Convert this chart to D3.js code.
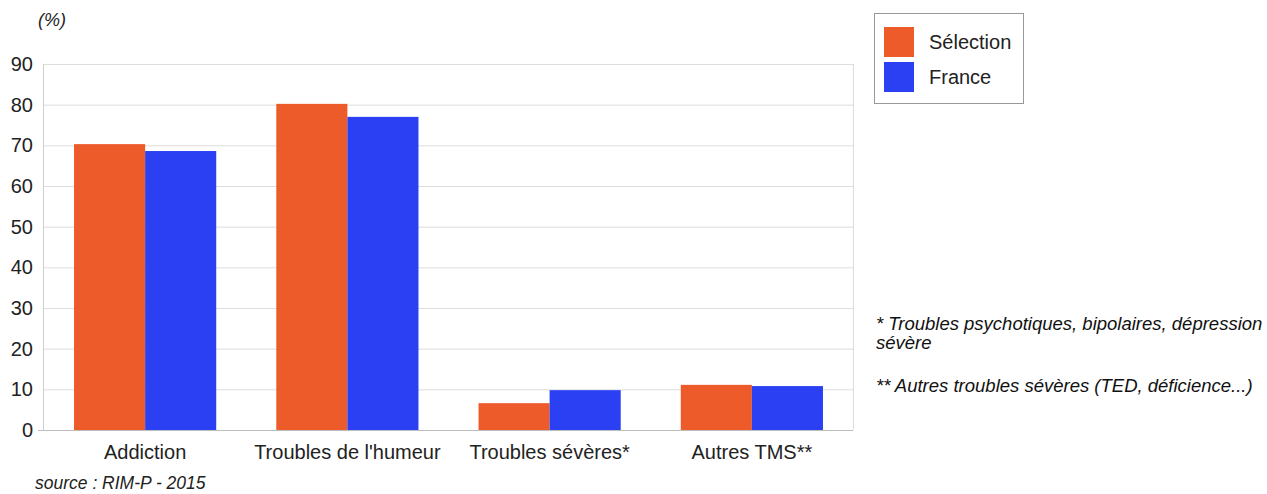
<!DOCTYPE html>
<html>
<head>
<meta charset="utf-8">
<script src="https://cdn.jsdelivr.net/npm/d3@7"></script>
<style>
  body { margin: 0; background: #fff; }
  svg { display: block; font-family: "Liberation Sans", Arial, Helvetica, sans-serif; }
</style>
</head>
<body>
<svg id="chart" width="1267" height="494"></svg>
<script>
// Share of patients by diagnosis group (%)
const categories = ["Addiction", "Troubles de l'humeur", "Troubles sévères*", "Autres TMS**"];
const seriesNames = ["Sélection", "France"];
const selection = [70.3, 80.2, 6.6, 11.1];
const france = [68.6, 77.0, 9.8, 10.8];
const yTicks = [0, 10, 20, 30, 40, 50, 60, 70, 80, 90];
const footnotes = [
  ["* Troubles psychotiques, bipolaires, dépression", "sévère"],
  ["** Autres troubles sévères (TED, déficience...)"]
];
const colors = ["#EE5B2B", "#2B40F3"];

const svg = d3.select("#chart");
const plot = { left: 44, right: 853, top: 64, bottom: 430 };

const x = d3.scaleBand()
  .domain(categories)
  .range([plot.left, plot.right])
  .paddingInner(0.297)
  .paddingOuter(0.1485);

const xInner = d3.scaleBand()
  .domain(seriesNames)
  .range([0, x.bandwidth()]);

const y = d3.scaleLinear()
  .domain([0, 90])
  .range([plot.bottom, plot.top]);

// Grid lines
svg.append("g")
  .selectAll("line")
  .data(yTicks.filter(d => d > 0))
  .join("line")
  .attr("x1", plot.left)
  .attr("x2", plot.right)
  .attr("y1", d => y(d) + 0.5)
  .attr("y2", d => y(d) + 0.5)
  .attr("stroke", "#dddddd")
  .attr("stroke-width", 1);

// Plot frame: left and right edges
svg.append("line")
  .attr("x1", plot.left - 0.5).attr("x2", plot.left - 0.5)
  .attr("y1", plot.top).attr("y2", plot.bottom)
  .attr("stroke", "#cfcfcf");
svg.append("line")
  .attr("x1", plot.right + 0.5).attr("x2", plot.right + 0.5)
  .attr("y1", plot.top).attr("y2", plot.bottom)
  .attr("stroke", "#dddddd");

// Bars
const data = categories.map((c, i) => ({ cat: c, values: [selection[i], france[i]] }));
const groups = svg.append("g")
  .selectAll("g")
  .data(data)
  .join("g")
  .attr("transform", d => `translate(${x(d.cat)},0)`);

groups.selectAll("rect")
  .data(d => d.values.map((v, j) => ({ key: seriesNames[j], value: v, j })))
  .join("rect")
  .attr("x", d => xInner(d.key))
  .attr("width", xInner.bandwidth())
  .attr("y", d => y(d.value))
  .attr("height", d => y(0) - y(d.value))
  .attr("fill", d => colors[d.j]);

// Baseline
svg.append("line")
  .attr("x1", plot.left - 6).attr("x2", plot.right)
  .attr("y1", plot.bottom + 0.5).attr("y2", plot.bottom + 0.5)
  .attr("stroke", "#bdbdbd");

// Y axis labels
const yAxis = d3.axisLeft(y).tickValues(yTicks).tickSize(0).tickPadding(11);
const gy = svg.append("g")
  .attr("transform", `translate(${plot.left},0)`)
  .call(yAxis);
gy.select(".domain").remove();
gy.selectAll("text")
  .attr("font-size", 20)
  .attr("font-family", "Liberation Sans, Arial, sans-serif")
  .attr("fill", "#222");

// X axis labels
const xAxis = d3.axisBottom(x).tickSize(0).tickPadding(15);
const gx = svg.append("g")
  .attr("transform", `translate(0,${plot.bottom})`)
  .call(xAxis);
gx.select(".domain").remove();
gx.selectAll("text")
  .attr("font-size", 20)
  .attr("font-family", "Liberation Sans, Arial, sans-serif")
  .attr("fill", "#222");

// Unit label
svg.append("text")
  .attr("x", 38).attr("y", 26)
  .attr("font-size", 18)
  .attr("font-style", "italic")
  .attr("fill", "#222")
  .text("(%)");

// Source
svg.append("text")
  .attr("x", 35).attr("y", 489)
  .attr("font-size", 17.5)
  .attr("font-style", "italic")
  .attr("fill", "#222")
  .text("source : RIM-P - 2015");

// Legend
const legend = svg.append("g").attr("transform", "translate(874,13)");
legend.append("rect")
  .attr("x", 0.5).attr("y", 0.5)
  .attr("width", 149).attr("height", 90)
  .attr("fill", "#fff")
  .attr("stroke", "#999");
const items = legend.selectAll("g.item")
  .data(seriesNames)
  .join("g")
  .attr("class", "item")
  .attr("transform", (d, i) => `translate(10,${14 + i * 35})`);
items.append("rect")
  .attr("width", 30).attr("height", 30)
  .attr("fill", (d, i) => colors[i]);
items.append("text")
  .attr("x", 45).attr("y", 22)
  .attr("font-size", 20)
  .attr("fill", "#222")
  .text(d => d);

// Footnotes
const notes = svg.append("g")
  .attr("font-size", 18.5)
  .attr("font-style", "italic")
  .attr("fill", "#111");
let noteY = [330, 392];
footnotes.forEach((lines, i) => {
  notes.append("text")
    .attr("x", 876).attr("y", noteY[i])
    .selectAll("tspan")
    .data(lines)
    .join("tspan")
    .attr("x", 876)
    .attr("dy", (d, k) => k === 0 ? 0 : 19)
    .text(d => d);
});
</script>
</body>
</html>
